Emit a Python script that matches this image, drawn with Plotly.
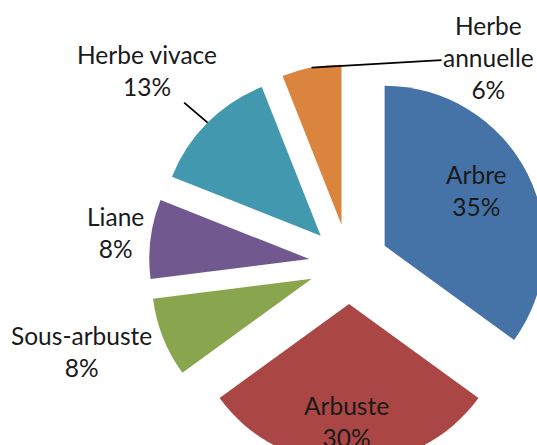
import math
import plotly.graph_objects as go

labels = ["Arbre", "Arbuste", "Sous-arbuste", "Liane", "Herbe vivace", "Herbe annuelle"]
values = [35, 30, 8, 8, 13, 6]
colors = ["#4572A7", "#AA4643", "#89A54E", "#71588F", "#4198AF", "#DB843D"]
label_text = ["Arbre", "Arbuste", "Sous-arbuste", "Liane", "Herbe vivace", "Herbe<br>annuelle"]

FONT = "Lato"
FSIZE = 24.5
TXT = "#1a1a1a"

W, H = 560, 470
CX, CY = 349, 264
R = 160
PULL = 0.25
half = R * (1 + PULL)
dom_x = [(CX - half) / W, (CX + half) / W]
dom_y = [1 - (CY + half) / H, 1 - (CY - half) / H]

total = sum(values)


def slice_point(i, k):
    """Point on the bisector of slice i, at k*R from the (pulled) tip, in paper coords."""
    start = sum(values[:i]) / total * 360
    mid = math.radians(start + values[i] / total * 360 / 2)
    d = R * PULL + R * k
    px = CX + d * math.sin(mid)
    py = CY - d * math.cos(mid)
    return px / W, 1 - py / H


def lab(i):
    return f"{label_text[i]}<br>{round(values[i] / total * 100)}%"


fig = go.Figure(go.Pie(
    labels=labels,
    values=values,
    sort=False,
    direction="clockwise",
    rotation=0,
    pull=[PULL] * len(values),
    marker=dict(colors=colors, line=dict(width=0)),
    textinfo="none",
    domain=dict(x=dom_x, y=dom_y),
    showlegend=False,
    hoverinfo="label+percent",
))

annotations = []
# Arbre (inside)
x, y = slice_point(0, 0.665)
annotations.append(dict(x=x, y=y, xref="paper", yref="paper", text=lab(0),
                        showarrow=False, xanchor="center", yanchor="middle",
                        xshift=-3, yshift=7, align="center"))
# Arbuste (inside)
x, y = slice_point(1, 0.756)
annotations.append(dict(x=x, y=y, xref="paper", yref="paper", text=lab(1),
                        showarrow=False, xanchor="center", yanchor="middle",
                        xshift=-3, yshift=3, align="center"))
# Sous-arbuste
x, y = slice_point(2, 1.0)
annotations.append(dict(x=x, y=y, xref="paper", yref="paper", text=lab(2),
                        showarrow=False, xanchor="right", yanchor="middle",
                        xshift=-9, yshift=-14, align="center"))
# Liane
x, y = slice_point(3, 1.0)
annotations.append(dict(x=x, y=y, xref="paper", yref="paper", text=lab(3),
                        showarrow=False, xanchor="right", yanchor="middle",
                        xshift=-5, yshift=6, align="center"))
# Herbe vivace (leader line)
x, y = slice_point(4, 1.0)
annotations.append(dict(x=x, y=y, xref="paper", yref="paper", text=lab(4),
                        showarrow=True, arrowhead=0, arrowwidth=1.8, arrowcolor="#000",
                        standoff=0, ax=-61, ay=-52, align="center"))
# Herbe annuelle (leader line)
x, y = slice_point(5, 1.0)
annotations.append(dict(x=x, y=y, xref="paper", yref="paper", text=lab(5),
                        showarrow=True, arrowhead=0, arrowwidth=1.8, arrowcolor="#000",
                        standoff=0, ax=177, ay=-10, align="center"))

fig.update_layout(
    width=W, height=H,
    margin=dict(l=0, r=0, t=0, b=0),
    paper_bgcolor="white",
    plot_bgcolor="white",
    font=dict(family=FONT, size=FSIZE, color=TXT),
    annotations=annotations,
)

fig.write_html(
    "out.html",
    config={"displayModeBar": False},
    post_script="document.body.style.margin='0';"
                "document.body.style.overflow='hidden';"
                "document.documentElement.style.overflow='hidden';",
)
